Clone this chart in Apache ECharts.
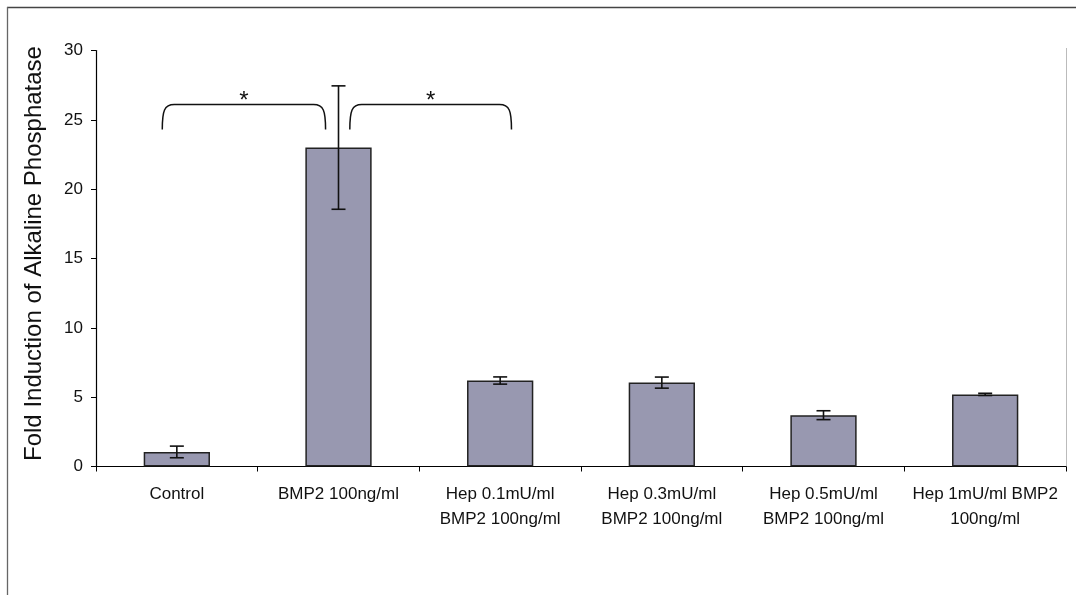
<!DOCTYPE html>
<html>
<head>
<meta charset="utf-8">
<script src="https://cdn.jsdelivr.net/npm/echarts@6/dist/echarts.min.js"></script>
<style>
  html, body { margin: 0; padding: 0; background: #ffffff; }
  #chart { width: 1082px; height: 595px; }
</style>
</head>
<body>
<div id="chart"></div>
<script>
// Treatment groups along the x axis
const categories = [
  'Control',
  'BMP2 100ng/ml',
  'Hep 0.1mU/ml\nBMP2 100ng/ml',
  'Hep 0.3mU/ml\nBMP2 100ng/ml',
  'Hep 0.5mU/ml\nBMP2 100ng/ml',
  'Hep 1mU/ml BMP2\n100ng/ml'
];
// Mean fold induction and its error (±)
const foldInduction = [1.05, 23.0, 6.2, 6.05, 3.7, 5.2];
const errorValues = [0.42, 4.45, 0.26, 0.4, 0.32, 0.08];
// Y axis ticks
const yMin = 0, yMax = 30, yStep = 5;
// Significance brackets: [fromCategory, fromOffset, toCategory, toOffset, topValue, endValue, label]
const brackets = [
  [0, -0.09, 1, -0.08, 26.1, 24.3, '*'],
  [1, 0.07, 2, 0.07, 26.1, 24.3, '*']
];

const FONT = '"Liberation Sans", Arial, sans-serif';
const chart = echarts.init(document.getElementById('chart'), null, { renderer: 'canvas' });

const errorData = foldInduction.map((v, i) => [i, v - errorValues[i], v + errorValues[i]]);

chart.setOption({
  backgroundColor: '#ffffff',
  animation: false,
  grid: { left: 96, right: 16, top: 50.5, bottom: 128.5, containLabel: false },
  xAxis: {
    type: 'category',
    data: categories,
    boundaryGap: true,
    axisLine: { lineStyle: { color: '#000', width: 1.2 } },
    axisTick: { show: true, length: 5, inside: false, alignWithLabel: false, lineStyle: { color: '#000' } },
    axisLabel: {
      interval: 0, margin: 15, color: '#111', fontFamily: FONT, fontSize: 17,
      lineHeight: 25, align: 'center'
    },
    splitLine: { show: false }
  },
  yAxis: {
    type: 'value',
    min: yMin, max: yMax, interval: yStep,
    name: 'Fold Induction of Alkaline Phosphatase',
    nameLocation: 'middle',
    nameGap: 50,
    nameRotate: 90,
    nameTextStyle: { fontFamily: FONT, fontSize: 24, color: '#111', padding: [0, 0, 0, 10] },
    axisLine: { show: true, lineStyle: { color: '#000', width: 1.2 } },
    axisTick: { show: true, length: 5, lineStyle: { color: '#000' } },
    axisLabel: { margin: 13, color: '#111', fontFamily: FONT, fontSize: 17 },
    splitLine: { show: false }
  },
  series: [
    {
      type: 'bar',
      data: foldInduction,
      barWidth: '41%',
      itemStyle: { color: '#9898b0', borderColor: '#222', borderWidth: 1.5 },
      z: 2
    },
    {
      type: 'custom',
      data: errorData,
      z: 3,
      renderItem: function (params, api) {
        const i = api.value(0);
        const lo = api.coord([i, api.value(1)]);
        const hi = api.coord([i, api.value(2)]);
        const cap = 7;
        const style = { stroke: '#111', lineWidth: 1.6 };
        return {
          type: 'group',
          children: [
            { type: 'line', shape: { x1: hi[0], y1: hi[1], x2: lo[0], y2: lo[1] }, style },
            { type: 'line', shape: { x1: hi[0] - cap, y1: hi[1], x2: hi[0] + cap, y2: hi[1] }, style },
            { type: 'line', shape: { x1: lo[0] - cap, y1: lo[1], x2: lo[0] + cap, y2: lo[1] }, style }
          ]
        };
      }
    },
    {
      type: 'custom',
      data: brackets.map(b => [b[0], b[4]]),
      z: 4,
      silent: true,
      renderItem: function (params, api) {
        const b = brackets[params.dataIndex];
        const band = api.size([1, 0])[0];
        const x1 = api.coord([b[0], b[4]])[0] + b[1] * band;
        const x2 = api.coord([b[2], b[4]])[0] + b[3] * band;
        const yt = api.coord([b[0], b[4]])[1];
        const yb = api.coord([b[0], b[5]])[1];
        const r = 12;
        const path = 'M' + x1 + ' ' + yb +
          ' C' + x1 + ' ' + (yt + 6) + ' ' + (x1 + 2) + ' ' + yt + ' ' + (x1 + r) + ' ' + yt +
          ' L' + (x2 - r) + ' ' + yt +
          ' C' + (x2 - 2) + ' ' + yt + ' ' + x2 + ' ' + (yt + 6) + ' ' + x2 + ' ' + yb;
        return {
          type: 'group',
          children: [
            { type: 'path', shape: { pathData: path }, style: { stroke: '#111', lineWidth: 1.5, fill: null } },
            {
              type: 'text',
              x: (x1 + x2) / 2, y: yt - 3,
              style: { text: b[6], fontFamily: FONT, fontSize: 24, fill: '#111', align: 'center', verticalAlign: 'middle' }
            }
          ]
        };
      }
    }
  ],
  graphic: [
    { type: 'line', shape: { x1: 7, y1: 7.5, x2: 1076, y2: 7.5 }, style: { stroke: '#444', lineWidth: 1.3 } },
    { type: 'line', shape: { x1: 7.5, y1: 7, x2: 7.5, y2: 595 }, style: { stroke: '#666', lineWidth: 1.3 } },
    { type: 'line', shape: { x1: 1066.5, y1: 48, x2: 1066.5, y2: 466 }, style: { stroke: '#bbb', lineWidth: 1 } }
  ]
});
</script>
</body>
</html>
